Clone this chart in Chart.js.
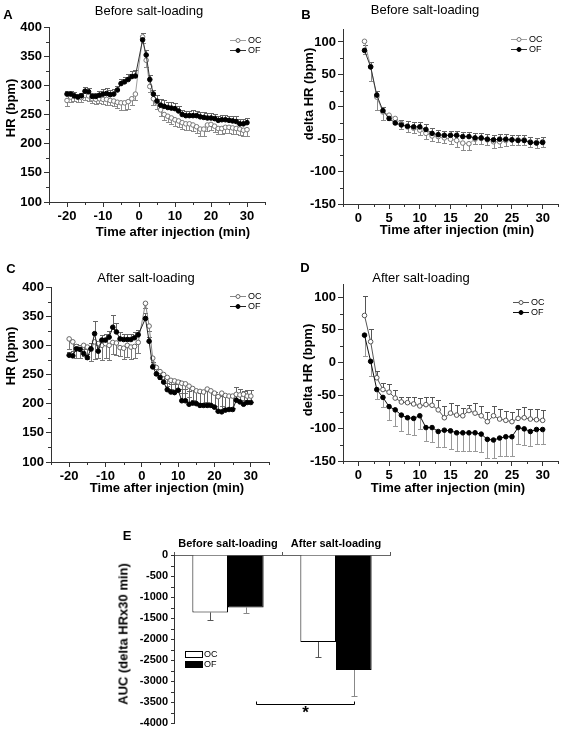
<!DOCTYPE html>
<html><head><meta charset="utf-8">
<script src="https://cdn.jsdelivr.net/npm/chart.js@4.4.1/dist/chart.umd.min.js"></script>
<style>
html,body{margin:0;padding:0;background:#fff;}
#wrap{position:relative;width:563px;height:733px;overflow:hidden;font-family:Arial,"Liberation Sans",sans-serif;color:#000;}
canvas{position:absolute;}
.lbl{position:absolute;transform:translate(-50%,-50%);white-space:nowrap;line-height:1;}
.rot{transform:translate(-50%,-50%) rotate(-90deg);}
.letter{font-weight:bold;font-size:13px;}
.ttl{font-size:13px;}
.axt{font-weight:bold;font-size:13px;}
</style></head>
<body><div id="wrap">
<canvas id="cA" width="280" height="240" style="left:0;top:0;width:280px;height:240px"></canvas>
<canvas id="cB" width="283" height="240" style="left:280px;top:0;width:283px;height:240px"></canvas>
<canvas id="cC" width="280" height="256" style="left:0;top:240px;width:280px;height:256px"></canvas>
<canvas id="cD" width="283" height="256" style="left:280px;top:240px;width:283px;height:256px"></canvas>
<canvas id="cE" width="300" height="213" style="left:100px;top:520px;width:300px;height:213px"></canvas>

<div class="lbl letter" style="left:8px;top:14px">A</div>
<div class="lbl letter" style="left:306px;top:14px">B</div>
<div class="lbl letter" style="left:11px;top:268px">C</div>
<div class="lbl letter" style="left:305px;top:267px">D</div>
<div class="lbl letter" style="left:127px;top:535px">E</div>

<div class="lbl ttl" style="left:149px;top:10px">Before salt-loading</div>
<div class="lbl ttl" style="left:425px;top:9px">Before salt-loading</div>
<div class="lbl ttl" style="left:146px;top:277px">After salt-loading</div>
<div class="lbl ttl" style="left:421px;top:277px">After salt-loading</div>

<div class="lbl axt" style="left:173px;top:231px">Time after injection (min)</div>
<div class="lbl axt" style="left:457px;top:229px">Time after injection (min)</div>
<div class="lbl axt" style="left:167px;top:487px">Time after injection (min)</div>
<div class="lbl axt" style="left:448px;top:487px">Time after injection (min)</div>

<div class="lbl axt rot" style="left:10px;top:108px">HR (bpm)</div>
<div class="lbl axt rot" style="left:308px;top:94px">delta HR (bpm)</div>
<div class="lbl axt rot" style="left:10px;top:356px">HR (bpm)</div>
<div class="lbl axt rot" style="left:307px;top:370px">delta HR (bpm)</div>
<div class="lbl axt rot" style="left:123px;top:634px">AUC (delta HRx30 min)</div>
</div>
<script>
// ---------- DATA ----------
const timeAC = [-20,-19,-18,-17,-16,-15,-14,-13,-12,-11,-10,-9,-8,-7,-6,-5,-4,-3,-2,-1,1,2,3,4,5,6,7,8,9,10,11,12,13,14,15,16,17,18,19,20,21,22,23,24,25,26,27,28,29,30];
const timeBD = [1,2,3,4,5,6,7,8,9,10,11,12,13,14,15,16,17,18,19,20,21,22,23,24,25,26,27,28,29,30];

const ticksX_AC = [-20,-10,0,10,20,30];
const ticksY_AC = [100,150,200,250,300,350,400];
const ticksX_BD = [0,5,10,15,20,25,30];
const ticksY_BD = [-150,-100,-50,0,50,100];
const ticksY_E = [-4000,-3500,-3000,-2500,-2000,-1500,-1000,-500,0];

const A_OC = [274,280,282,280,279,283,282,277,276,277,276,276,274,273,271,270,270,272,277,285,383,343,298,277,270,258,250,247,244,241,239,236,234,234,232,229,225,225,232,233,230,226,226,228,228,227,226,225,223,224];
const A_OC_err = [10,8,8,8,8,8,8,8,8,8,8,9,8,8,10,12,12,12,10,10,10,12,10,10,10,10,10,10,10,10,10,10,10,10,10,11,12,12,10,10,10,10,10,10,10,10,10,10,10,10];
const A_OF = [285,285,282,280,282,290,289,281,281,283,285,286,284,285,292,303,306,310,315,316,378,352,310,285,273,266,264,262,261,260,256,250,248,248,248,248,246,245,244,244,243,240,241,241,240,239,238,234,234,236];
const A_OF_err = [6,5,6,6,5,8,7,6,6,7,8,9,8,8,7,8,8,9,10,10,12,8,7,7,10,11,11,10,10,9,9,8,8,8,9,8,9,9,8,9,8,8,8,8,8,8,9,8,8,8];

const B_OC = [101,62,15,-8,-13,-18,-26,-31,-33,-36,-41,-45,-46,-48,-50,-52,-56,-57,-50,-49,-51,-54,-54,-52,-51,-51,-51,-54,-55,-54];
const B_OC_err = [20,22,20,12,8,8,8,8,8,8,8,8,8,8,8,10,10,10,8,8,8,10,8,8,8,8,8,8,8,8];
const B_OF = [87,61.5,18,-6,-18,-25,-28,-30,-31,-31,-35,-41,-43,-44,-44,-44,-46,-46,-48,-48,-50,-51,-50,-50,-51,-52,-52,-55,-56,-55];
const B_OF_err = [8,8,6,6,6,6,8,8,8,8,8,8,7,7,7,7,7,7,7,7,8,8,8,8,8,8,8,8,8,8];

const C_OC = [311,306,298,296,300,297,293,306,303,300,303,300,305,304,296,295,300,297,298,305,372,333,278,262,255,250,245,240,239,237,235,234,230,226,222,221,220,225,222,218,212,218,214,213,213,216,215,216,213,213];
const C_OC_err = [18,15,20,18,18,20,20,30,25,25,25,25,20,20,15,18,20,20,20,18,8,8,10,12,12,14,15,15,15,15,16,16,18,20,20,20,20,22,22,22,22,22,22,22,20,10,10,10,10,10];
const C_OF = [283,282,294,293,286,279,294,320,290,309,309,314,331,323,311,310,310,310,313,318,346,307,263,251,245,237,224,220,219,223,205,205,199,201,200,197,197,197,197,194,187,186,189,190,190,206,203,199,202,202];
const C_OF_err = [6,8,8,8,8,6,10,22,10,8,10,10,21,15,12,10,10,10,10,8,10,8,8,8,8,10,12,14,15,18,20,20,22,22,22,22,24,24,24,26,28,28,26,24,24,22,22,22,22,22];

const D_OC = [72,32,-23,-41,-45,-54,-60,-61,-63,-66,-64,-65,-72,-84,-77,-80,-81,-73,-77,-81,-90,-81,-86,-88,-90,-85,-84,-86,-87,-88];
const D_OC_err = [29,20,10,10,12,12,8,8,10,12,12,12,15,18,15,15,12,8,15,15,15,15,15,15,15,15,16,16,16,16];
const D_OF = [42,2,-41,-53,-67,-72,-80,-84,-85,-81,-99,-99,-105,-103,-104,-107,-107,-107,-107,-109,-117,-118,-115,-113,-113,-99,-101,-105,-102,-102];
const D_OF_err = [32,22,14,14,20,24,24,25,25,20,20,22,24,25,28,28,28,28,28,28,28,28,28,30,30,25,25,22,22,22];

const E_groups = ['Before salt-loading','After salt-loading'];
const E_OC = [-1365,-2066];
const E_OC_err = [175,360];
const E_OF = [-1248,-2730];
const E_OF_err = [130,620];
const seriesNames = ['OC','OF'];

// ---------- PLUGINS ----------
Chart.defaults.font.family = 'Arial, "Liberation Sans", sans-serif';
Chart.defaults.color = '#000';

const errorBars = {
  id: 'errorBars',
  beforeDatasetsDraw(chart) {
    const ctx = chart.ctx;
    chart.data.datasets.forEach((ds, di) => {
      if (!ds.errors) return;
      const meta = chart.getDatasetMeta(di);
      const yS = chart.scales[meta.yAxisID];
      ctx.save();
      ctx.strokeStyle = ds.errorColor || '#666';
      ctx.lineWidth = 1;
      meta.data.forEach((el, i) => {
        const raw = ds.data[i];
        const v = (typeof raw === 'object') ? raw.y : raw;
        const x = Math.round(el.x) + 0.5;
        const y1 = el.y;
        const y2 = Math.round(yS.getPixelForValue(v + ds.errorDir * ds.errors[i])) + 0.5;
        const cw = ds.capHalf || 2.5;
        ctx.beginPath();
        ctx.moveTo(x, y1); ctx.lineTo(x, y2);
        ctx.moveTo(x - cw, y2); ctx.lineTo(x + cw, y2);
        ctx.stroke();
      });
      ctx.restore();
    });
  }
};

const minorTicks = {
  id: 'minorTicks',
  afterDraw(chart, args, o) {
    if (!o || !o.axes) return;
    const ctx = chart.ctx, ca = chart.chartArea;
    ctx.save();
    ctx.strokeStyle = o.color || '#333';
    ctx.lineWidth = 1;
    o.axes.forEach(a => {
      const s = chart.scales[a.id];
      const start = Math.ceil(s.min / a.minor) * a.minor;
      for (let v = start; v <= s.max + 1e-9; v += a.minor) {
        if (Math.abs(v / a.major - Math.round(v / a.major)) < 1e-6) continue;
        const p = Math.round(s.getPixelForValue(v)) + 0.5;
        ctx.beginPath();
        if (s.isHorizontal()) { ctx.moveTo(p, ca.bottom); ctx.lineTo(p, ca.bottom + (a.len || 3)); }
        else { ctx.moveTo(ca.left, p); ctx.lineTo(ca.left - (a.len || 3), p); }
        ctx.stroke();
      }
    });
    ctx.restore();
  }
};

const miniLegend = {
  id: 'miniLegend',
  afterDraw(chart, args, o) {
    if (!o || !o.items) return;
    const ctx = chart.ctx;
    ctx.save();
    ctx.font = (o.fontSize || 9) + 'px Arial, "Liberation Sans", sans-serif';
    ctx.textBaseline = 'middle';
    ctx.textAlign = 'left';
    o.items.forEach((it, k) => {
      const y = Math.round(o.y + k * o.dy) + 0.5;
      ctx.lineWidth = 1;
      if (it.kind === 'box') {
        ctx.fillStyle = it.fill; ctx.strokeStyle = '#000';
        ctx.fillRect(o.x, y - o.h / 2, o.w, o.h);
        ctx.strokeRect(o.x + 0.5, y - o.h / 2, o.w, o.h);
      } else {
        ctx.strokeStyle = it.line;
        ctx.beginPath(); ctx.moveTo(o.x, y); ctx.lineTo(o.x + o.w, y); ctx.stroke();
        ctx.beginPath(); ctx.arc(o.x + o.w / 2, y, o.r, 0, Math.PI * 2);
        ctx.fillStyle = it.fill; ctx.fill();
        ctx.strokeStyle = it.pt; ctx.stroke();
      }
      ctx.fillStyle = '#000';
      ctx.fillText(it.label, o.x + o.w + 2, y);
    });
    ctx.restore();
  }
};

const sigBracket = {
  id: 'sigBracket',
  afterDraw(chart, args, o) {
    if (!o || !o.enabled) return;
    const ctx = chart.ctx;
    const yS = chart.scales.y;
    const m = chart.getDatasetMeta(1);
    const xL = Math.round(m.data[0].x + o.leftShift) + 0.5;
    const xR = Math.round(m.data[1].x) + 0.5;
    const y = Math.round(yS.getPixelForValue(o.value)) + 0.5;
    ctx.save();
    ctx.strokeStyle = '#000'; ctx.lineWidth = 1;
    ctx.beginPath();
    ctx.moveTo(xL, y - 3); ctx.lineTo(xL, y); ctx.lineTo(xR, y); ctx.lineTo(xR, y - 3);
    ctx.stroke();
    ctx.fillStyle = '#000';
    ctx.font = 'bold 17px Arial, "Liberation Sans", sans-serif';
    ctx.textAlign = 'center'; ctx.textBaseline = 'middle';
    ctx.fillText('*', (xL + xR) / 2, yS.getPixelForValue(o.starValue));
    ctx.restore();
  }
};

// ---------- BUILDERS ----------
function tickFont(sz) { return {size: sz, weight: 'bold'}; }
function fixTicks(vals) { return s => { s.ticks = vals.map(v => ({value: v})); }; }

function lineChart(id, times, oc, ocErr, ocDir, of, ofErr, ofDir, c) {
  return new Chart(document.getElementById(id), {
    type: 'line',
    data: {
      datasets: [
        { label: seriesNames[0], order: 1, data: times.map((t, i) => ({x: t, y: oc[i]})),
          borderColor: c.ocLine, borderWidth: 1, tension: 0,
          pointRadius: 2.3, pointBackgroundColor: '#fff', pointBorderColor: c.ocPt, pointBorderWidth: 1,
          errors: ocErr, errorDir: ocDir, errorColor: c.ocErr },
        { label: seriesNames[1], order: 0, data: times.map((t, i) => ({x: t, y: of[i]})),
          borderColor: c.ofLine, borderWidth: 1, tension: 0,
          pointRadius: 2.3, pointBackgroundColor: '#000', pointBorderColor: '#000', pointBorderWidth: 1,
          errors: ofErr, errorDir: ofDir, errorColor: c.ofErr }
      ]
    },
    options: {
      responsive: false, animation: false,
      layout: {padding: c.pad},
      plugins: {
        legend: {display: false}, tooltip: {enabled: false},
        miniLegend: {x: c.lx, y: c.ly, dy: 9.5, w: 16, r: 2, fontSize: 9,
          items: [
            {label: seriesNames[0], line: c.ocLine, pt: c.ocPt, fill: '#fff'},
            {label: seriesNames[1], line: c.ofLine, pt: '#000', fill: '#000'}
          ]},
        minorTicks: {axes: [
          {id: 'x', minor: c.xminor, major: c.xmajor},
          {id: 'y', minor: c.yminor, major: c.ymajor}
        ]}
      },
      scales: {
        x: {
          type: 'linear', min: c.xmin, max: c.xmax,
          afterFit: s => { s.height = c.xh; },
          afterBuildTicks: fixTicks(c.xticks),
          ticks: {font: tickFont(13), padding: 2, maxRotation: 0, autoSkip: false, callback: v => String(v)},
          grid: {drawOnChartArea: false, tickLength: 5, color: '#333'},
          border: {color: '#333'}
        },
        y: {
          min: c.ymin, max: c.ymax,
          afterFit: s => { s.width = c.yw; },
          afterBuildTicks: fixTicks(c.yticks),
          ticks: {font: tickFont(13), padding: 2, autoSkip: false, callback: v => String(v)},
          grid: {drawOnChartArea: false, tickLength: 5, color: '#333'},
          border: {color: '#333'}
        }
      }
    },
    plugins: [errorBars, minorTicks, miniLegend]
  });
}

lineChart('cA', timeAC, A_OC, A_OC_err, -1, A_OF, A_OF_err, 1, {
  pad: {left: 0, right: 15, top: 27, bottom: 0}, xh: 38, yw: 49,
  xmin: -25, xmax: 35, xticks: ticksX_AC, xmajor: 10, xminor: 5,
  ymin: 100, ymax: 400, yticks: ticksY_AC, ymajor: 50, yminor: 25,
  ocLine: '#a0a0a0', ocPt: '#777', ocErr: '#8a8a8a', ofLine: '#333', ofErr: '#666',
  lx: 230, ly: 40
});
lineChart('cB', timeBD, B_OC, B_OC_err, -1, B_OF, B_OF_err, 1, {
  pad: {left: 0, right: 3, top: 29, bottom: 0}, xh: 36, yw: 63,
  xmin: -2.5, xmax: 32.5, xticks: ticksX_BD, xmajor: 5, xminor: 2.5,
  ymin: -150, ymax: 120, yticks: ticksY_BD, ymajor: 50, yminor: 25,
  ocLine: '#a0a0a0', ocPt: '#777', ocErr: '#8a8a8a', ofLine: '#333', ofErr: '#666',
  lx: 231, ly: 39
});
lineChart('cC', timeAC, C_OC, C_OC_err, -1, C_OF, C_OF_err, 1, {
  pad: {left: 0, right: 11, top: 47, bottom: 0}, xh: 34, yw: 51,
  xmin: -25, xmax: 35, xticks: ticksX_AC, xmajor: 10, xminor: 5,
  ymin: 100, ymax: 400, yticks: ticksY_AC, ymajor: 50, yminor: 25,
  ocLine: '#888', ocPt: '#666', ocErr: '#777', ofLine: '#222', ofErr: '#666',
  lx: 230, ly: 56
});
lineChart('cD', timeBD, D_OC, D_OC_err, 1, D_OF, D_OF_err, -1, {
  pad: {left: 0, right: 5, top: 44, bottom: 0}, xh: 35, yw: 63,
  xmin: -2.5, xmax: 32.5, xticks: ticksX_BD, xmajor: 5, xminor: 2.5,
  ymin: -150, ymax: 120, yticks: ticksY_BD, ymajor: 50, yminor: 25,
  ocLine: '#555', ocPt: '#555', ocErr: '#555', ofLine: '#111', ofErr: '#999',
  lx: 233, ly: 62
});

new Chart(document.getElementById('cE'), {
  type: 'bar',
  data: {
    labels: E_groups,
    datasets: [
      {label: seriesNames[0], data: E_OC, backgroundColor: '#fff', borderColor: '#000', borderWidth: 1,
       errors: E_OC_err, errorDir: -1, errorColor: '#555', capHalf: 3},
      {label: seriesNames[1], data: E_OF, backgroundColor: '#000', borderColor: '#000', borderWidth: 1,
       errors: E_OF_err, errorDir: -1, errorColor: '#888', capHalf: 3}
    ]
  },
  options: {
    responsive: false, animation: false,
    layout: {padding: {left: 0, right: 10, top: 0, bottom: 7}},
    datasets: {bar: {categoryPercentage: 0.66, barPercentage: 1.0}},
    plugins: {
      legend: {display: false}, tooltip: {enabled: false},
      miniLegend: {x: 85, y: 134, dy: 9.5, w: 17, h: 6, fontSize: 9,
        items: [
          {kind: 'box', label: seriesNames[0], fill: '#fff'},
          {kind: 'box', label: seriesNames[1], fill: '#000'}
        ]},
      minorTicks: {axes: [{id: 'y', minor: 250, major: 500}]},
      sigBracket: {enabled: true, value: -3530, starValue: -3760, leftShift: 10}
    },
    scales: {
      x: {
        position: 'top',
        afterFit: s => { s.height = 35; },
        ticks: {font: tickFont(11), padding: 1, maxRotation: 0, autoSkip: false},
        grid: {drawOnChartArea: false, tickLength: 3, color: '#555', offset: true},
        border: {color: '#666'}
      },
      y: {
        min: -4000, max: 0,
        afterFit: s => { s.width = 74; },
        afterBuildTicks: fixTicks(ticksY_E),
        ticks: {font: tickFont(11), padding: 3, autoSkip: false, callback: v => String(v)},
        grid: {drawOnChartArea: false, tickLength: 3, color: '#333'},
        border: {color: '#333'}
      }
    }
  },
  plugins: [errorBars, minorTicks, miniLegend, sigBracket]
});
</script>
</body></html>
